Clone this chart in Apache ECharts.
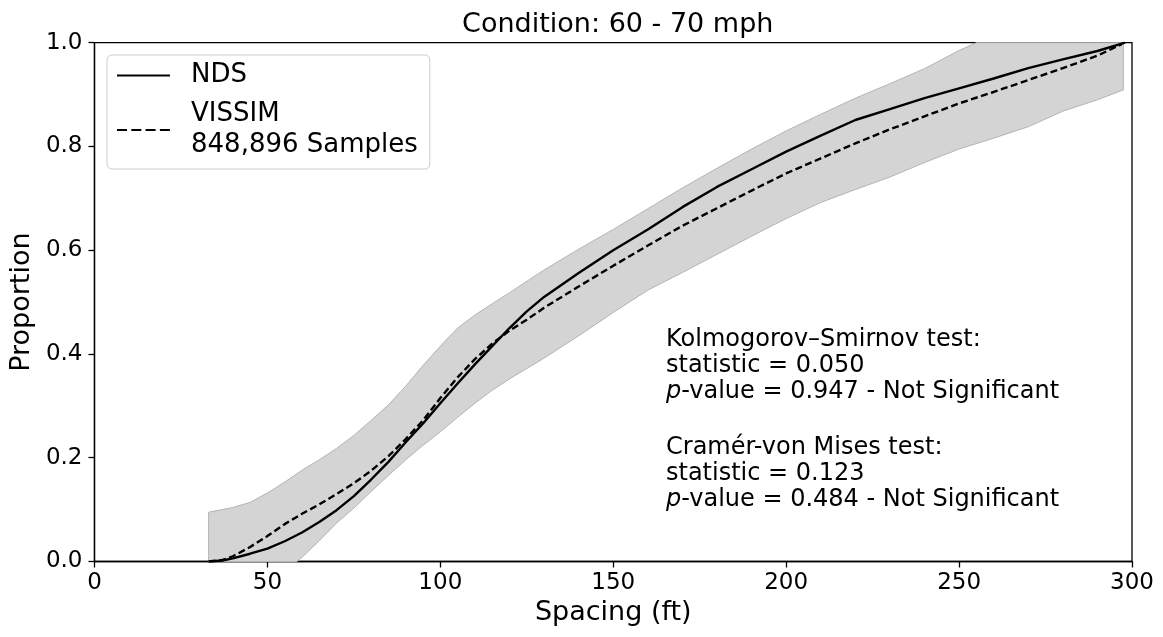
<!DOCTYPE html>
<html>
<head>
<meta charset="utf-8">
<script src="https://cdn.jsdelivr.net/npm/echarts@6/dist/echarts.min.js"></script>
<style>
html,body{margin:0;padding:0;background:#fff;}
#chart{width:1163px;height:637px;}
</style>
</head>
<body>
<div id="chart"></div>
<script>
// ---- data ----
const ndsX = [33, 37, 40, 45, 50, 55, 60, 65, 70, 75, 80, 85, 90, 95, 100, 105, 110, 115, 120, 125, 130, 140, 150, 160, 170, 180, 190, 200, 210, 220, 230, 240, 250, 260, 270, 280, 290, 298];
const ndsY = [0, 0.002, 0.006, 0.015, 0.025, 0.039, 0.056, 0.076, 0.099, 0.126, 0.158, 0.192, 0.230, 0.266, 0.305, 0.343, 0.380, 0.415, 0.450, 0.482, 0.510, 0.556, 0.600, 0.640, 0.683, 0.722, 0.756, 0.790, 0.821, 0.851, 0.872, 0.893, 0.912, 0.931, 0.951, 0.968, 0.984, 1.0];

const vissimX = [33, 37, 40, 45, 50, 55, 60, 65, 70, 75, 80, 85, 90, 95, 100, 105, 110, 115, 120, 125, 130, 140, 150, 160, 170, 180, 190, 200, 210, 220, 230, 240, 250, 260, 270, 280, 290, 297];
const vissimY = [0, 0.003, 0.010, 0.028, 0.049, 0.072, 0.092, 0.110, 0.130, 0.151, 0.175, 0.203, 0.236, 0.272, 0.315, 0.355, 0.390, 0.420, 0.445, 0.466, 0.489, 0.530, 0.570, 0.609, 0.647, 0.681, 0.715, 0.748, 0.777, 0.806, 0.833, 0.858, 0.883, 0.905, 0.928, 0.951, 0.975, 0.997];

const bandTopX = [33, 40, 45, 50, 55, 60, 65, 70, 75, 80, 85, 90, 95, 100, 105, 110, 115, 120, 130, 140, 150, 160, 170, 180, 190, 200, 210, 220, 230, 240, 250, 255, 297.5];
const bandTopY = [0.095, 0.104, 0.114, 0.132, 0.153, 0.176, 0.196, 0.218, 0.243, 0.272, 0.302, 0.338, 0.378, 0.415, 0.450, 0.475, 0.497, 0.518, 0.562, 0.602, 0.640, 0.680, 0.720, 0.758, 0.795, 0.830, 0.862, 0.893, 0.921, 0.950, 0.985, 1.0, 1.0];

const bandBotX = [33, 58.5, 60, 65, 70, 75, 80, 85, 90, 95, 100, 105, 110, 115, 120, 130, 140, 150, 160, 170, 180, 190, 200, 210, 220, 230, 240, 250, 260, 270, 280, 290, 297.5];
const bandBotY = [0, 0, 0.008, 0.040, 0.074, 0.103, 0.135, 0.166, 0.196, 0.224, 0.250, 0.278, 0.305, 0.330, 0.352, 0.392, 0.435, 0.480, 0.523, 0.557, 0.592, 0.627, 0.661, 0.692, 0.717, 0.741, 0.769, 0.795, 0.816, 0.838, 0.868, 0.890, 0.909];

const xTicks = [0, 50, 100, 150, 200, 250, 300];
const yTicks = [0.0, 0.2, 0.4, 0.6, 0.8, 1.0];

const titleText = 'Condition: 60 - 70 mph';
const ndsName = 'NDS';
const vissimName = 'VISSIM\n848,896 Samples';
const ksLines = ['Kolmogorov\u2013Smirnov test:', 'statistic = 0.050', '{i|p}-value = 0.947 - Not Significant'];
const cvmLines = ['Cram\u00e9r-von Mises test:', 'statistic = 0.123', '{i|p}-value = 0.484 - Not Significant'];

// ---- chart ----
const FONT = '"DejaVu Sans", sans-serif';
const chart = echarts.init(document.getElementById('chart'), null, {renderer: 'canvas'});

const pairs = (xs, ys) => xs.map((x, i) => [x, ys[i]]);

const option = {
  animation: false,
  backgroundColor: '#ffffff',
  textStyle: {fontFamily: FONT, color: '#000'},
  title: {
    text: titleText,
    left: 612.75,
    textAlign: 'center',
    top: 6,
    textStyle: {fontFamily: FONT, fontSize: 27, fontWeight: 'normal', color: '#000'}
  },
  grid: {
    left: 93.5, right: 31, top: 42.7, bottom: 75.5,
    show: true, borderColor: '#000', borderWidth: 1.3, backgroundColor: 'transparent'
  },
  legend: {
    data: [ndsName, {name: vissimName, lineStyle: {type: [10, 4.3]}}],
    orient: 'vertical',
    left: 107,
    top: 55,
    padding: [5, 12, 8, 9],
    itemGap: 8,
    itemWidth: 53,
    itemHeight: 31,
    backgroundColor: 'rgba(255,255,255,0.85)',
    borderColor: '#cccccc',
    borderWidth: 1,
    borderRadius: 5,
    selectedMode: false,
    itemStyle: {opacity: 0},
    textStyle: {fontFamily: FONT, fontSize: 26, lineHeight: 31, color: '#000', padding: [0, 0, 0, 16]}
  },
  xAxis: {
    type: 'value',
    min: 0, max: 300, interval: 50,
    name: 'Spacing (ft)',
    nameLocation: 'middle',
    nameGap: 36,
    nameTextStyle: {fontFamily: FONT, fontSize: 27, color: '#000'},
    axisLine: {show: true, onZero: false, lineStyle: {color: '#000', width: 1.3}},
    axisTick: {show: true, inside: false, length: 6, lineStyle: {color: '#000', width: 1.3}},
    axisLabel: {fontFamily: FONT, fontSize: 23, color: '#000', margin: 10,
      formatter: v => xTicks.includes(v) ? String(v) : ''},
    splitLine: {show: false}
  },
  yAxis: {
    type: 'value',
    min: 0, max: 1, interval: 0.2,
    name: 'Proportion',
    nameLocation: 'middle',
    nameGap: 57,
    nameTextStyle: {fontFamily: FONT, fontSize: 27, color: '#000'},
    axisLine: {show: true, onZero: false, lineStyle: {color: '#000', width: 1.3}},
    axisTick: {show: true, inside: false, length: 6, lineStyle: {color: '#000', width: 1.3}},
    axisLabel: {fontFamily: FONT, fontSize: 23, color: '#000', margin: 12,
      formatter: v => yTicks.some(t => Math.abs(t - v) < 1e-9) ? v.toFixed(1) : ''},
    splitLine: {show: false}
  },
  series: [
    {
      name: 'band',
      type: 'custom',
      coordinateSystem: 'cartesian2d',
      silent: true,
      z: 1,
      data: [[bandTopX[0], bandTopY[0]]],
      renderItem: function (params, api) {
        const pts = [];
        for (let i = 0; i < bandTopX.length; i++) pts.push(api.coord([bandTopX[i], bandTopY[i]]));
        for (let i = bandBotX.length - 1; i >= 0; i--) pts.push(api.coord([bandBotX[i], bandBotY[i]]));
        return {
          type: 'polygon',
          shape: {points: pts},
          style: {fill: '#d4d4d4', stroke: '#b4b4b4', lineWidth: 1}
        };
      }
    },
    {
      name: ndsName,
      type: 'line',
      data: pairs(ndsX, ndsY),
      symbol: 'none',
      z: 3,
      lineStyle: {color: '#000', width: 2.4, type: 'solid'},
      itemStyle: {color: '#000'}
    },
    {
      name: vissimName,
      type: 'line',
      data: pairs(vissimX, vissimY),
      symbol: 'none',
      z: 3,
      lineStyle: {color: '#000', width: 2.4, type: [7, 3.5]},
      itemStyle: {color: '#000'}
    }
  ],
  graphic: [
    {
      type: 'text',
      left: 666,
      top: 327,
      silent: true,
      style: {
        text: ksLines.join('\n'),
        font: '24px ' + FONT,
        fill: '#000',
        lineHeight: 26,
        rich: {i: {fontStyle: 'italic', fontSize: 24, fontFamily: FONT, lineHeight: 26}}
      }
    },
    {
      type: 'text',
      left: 666,
      top: 435,
      silent: true,
      style: {
        text: cvmLines.join('\n'),
        font: '24px ' + FONT,
        fill: '#000',
        lineHeight: 26,
        rich: {i: {fontStyle: 'italic', fontSize: 24, fontFamily: FONT, lineHeight: 26}}
      }
    }
  ]
};
chart.setOption(option);
</script>
</body>
</html>
